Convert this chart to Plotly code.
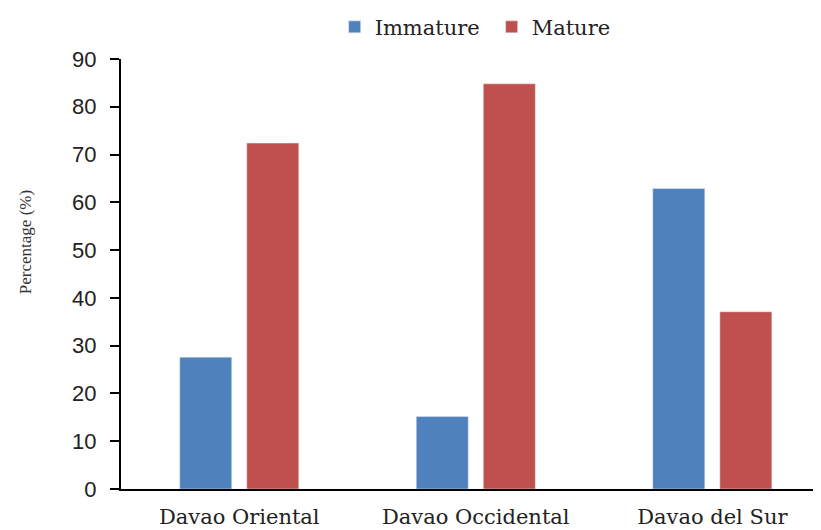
import plotly.graph_objects as go

categories = ["Davao Oriental", "Davao Occidental", "Davao del Sur"]
immature = [27.6, 15.2, 62.9]
mature = [72.4, 84.8, 37.1]
y_ticks = [0, 10, 20, 30, 40, 50, 60, 70, 80, 90]

serif = "DejaVu Serif, serif"
sans = "Liberation Sans, Arial, sans-serif"

fig = go.Figure()
fig.add_trace(go.Bar(name="Immature", x=categories, y=immature, marker_color="#4F81BD"))
fig.add_trace(go.Bar(name="Mature", x=categories, y=mature, marker_color="#C0504D"))

fig.update_layout(
    width=821, height=530,
    margin=dict(l=113, r=6, t=51, b=49, autoexpand=False),
    paper_bgcolor="white", plot_bgcolor="white",
    barmode="group", bargap=0.433, bargroupgap=0.224,
    showlegend=True,
    legend=dict(orientation="h", x=0.528, xanchor="center", y=1.074, yanchor="middle",
                font=dict(family=serif, size=21, color="#222"), itemwidth=30,
                entrywidth=112, traceorder="normal"),
    annotations=[dict(text="Percentage (%)", xref="paper", yref="paper",
                      x=-96 / 702, y=0.574, textangle=-90, showarrow=False,
                      xanchor="center", yanchor="middle",
                      font=dict(family="Liberation Serif, serif", size=17, color="#333"))],
)
fig.update_xaxes(
    type="category", range=[-0.5, 2.468],
    showline=True, linecolor="black", linewidth=2,
    ticks="", showgrid=False,
    tickfont=dict(family=serif, size=21, color="#222"),
    ticklabelstandoff=8,
)
fig.update_yaxes(
    range=[0, 90], tickvals=y_ticks,
    showline=True, linecolor="black", linewidth=2,
    ticks="outside", ticklen=9, tickwidth=2, tickcolor="black",
    showgrid=False, zeroline=False,
    tickfont=dict(family=sans, size=22, color="#222"),
    ticklabelstandoff=9,
)

fig.write_html("out.html")
